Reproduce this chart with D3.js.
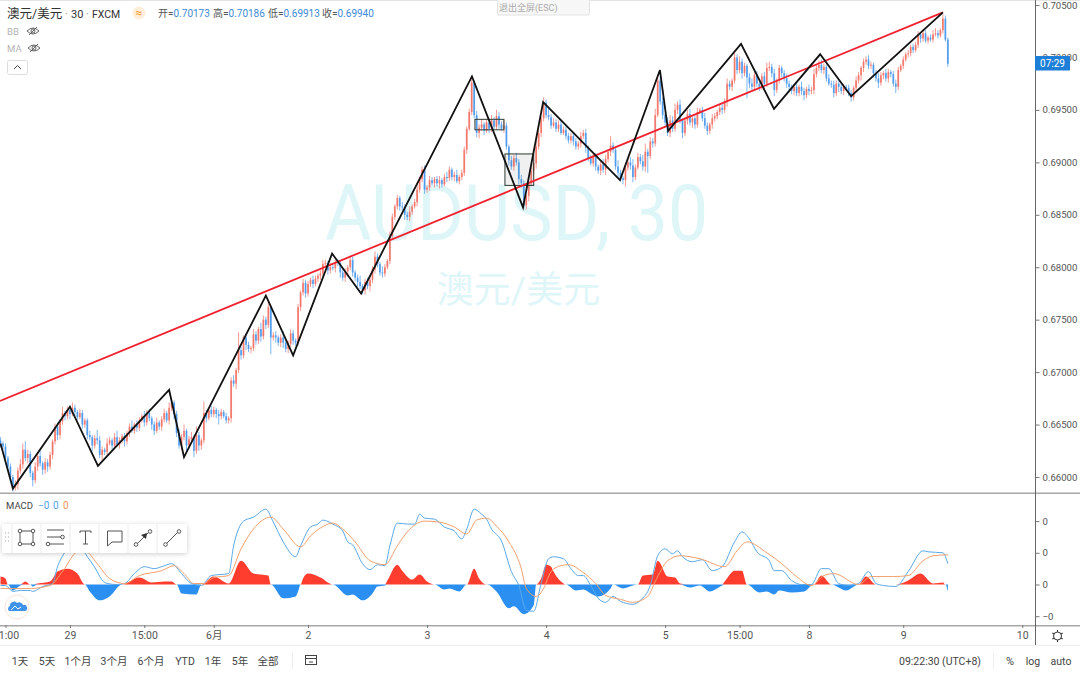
<!DOCTYPE html>
<html><head><meta charset="utf-8">
<script src="https://cdn.jsdelivr.net/npm/d3@7/dist/d3.min.js"></script>
<style>
html,body{margin:0;padding:0;background:#fff;overflow:hidden}
svg{display:block}
text{font-family:Roboto,"Noto Sans CJK SC",sans-serif}
</style></head><body>
<svg id="c" width="1080" height="675"></svg>
<script>
// close of each 30 minute bar, in pips (0.0001)
const closes=[
6632,6629,6618,6610,6600,6590,6593,6606,6612,6626,
6618,6622,6604,6597,6610,6620,6613,6607,6614,6610,
6621,6634,6648,6640,6653,6661,6658,6664,6660,6666,
6662,6657,6661,6650,6654,6640,6638,6630,6637,6635,
6621,6626,6624,6632,6635,6630,6638,6631,6635,6639,
6634,6642,6648,6644,6650,6647,6654,6658,6652,6661,
6656,6650,6644,6652,6648,6655,6661,6654,6666,6671,
6660,6642,6630,6638,6644,6630,6636,6638,6625,6640,
6630,6635,6661,6656,6664,6660,6664,6660,6658,6662,
6658,6654,6656,6692,6689,6702,6721,6716,6733,6726,
6722,6723,6736,6730,6741,6734,6750,6745,6762,6733,
6735,6733,6728,6733,6728,6722,6727,6737,6730,6728,
6762,6776,6785,6775,6784,6788,6784,6789,6792,6794,
6803,6804,6797,6800,6799,6805,6804,6795,6790,6796,
6800,6807,6795,6790,6786,6782,6778,6786,6782,6788,
6798,6810,6803,6795,6794,6800,6806,6830,6848,6858,
6866,6858,6857,6850,6848,6853,6858,6862,6874,6884,
6893,6874,6876,6883,6880,6884,6880,6883,6879,6886,
6885,6893,6886,6888,6882,6886,6890,6912,6932,6948,
6976,6945,6928,6933,6936,6930,6938,6932,6940,6934,
6944,6936,6932,6935,6915,6902,6896,6904,6900,6884,
6880,6859,6868,6880,6892,6899,6915,6928,6942,6957,
6945,6943,6935,6938,6932,6936,6928,6931,6925,6921,
6925,6920,6915,6918,6925,6928,6914,6904,6899,6905,
6896,6892,6898,6893,6903,6910,6916,6912,6896,6890,
6885,6883,6895,6900,6897,6886,6895,6905,6901,6896,
6910,6906,6920,6918,6945,6978,6958,6945,6938,6928,
6940,6932,6950,6955,6940,6928,6940,6946,6938,6942,
6936,6948,6950,6942,6935,6930,6936,6942,6944,6948,
6952,6950,6958,6975,6972,6978,7000,6988,6996,6985,
6992,6981,6975,6972,6983,6975,6972,6982,6975,6990,
6991,6985,6969,6978,6990,6985,6980,6975,6972,6968,
6972,6966,6972,6968,6964,6970,6968,6969,6984,6990,
6993,6988,6991,6980,6975,6974,6966,6975,6972,6968,
6972,6971,6966,6962,6971,6978,6983,6990,6996,6998,
6992,6993,6985,6980,6976,6983,6985,6980,6986,6984,
6975,6972,6988,6992,6998,7003,7004,7010,7007,7012,
7022,7018,7023,7016,7019,7017,7022,7023,7021,7026,
7037,7017,6994];
const wickUp=[
3,2,3,2,3,2,4,3,5,6, 8,4,3,2,4,3,5,2,4,3, 3,2,3,4,2,6,2,3,4,5, 3,2,4,3,2,2,4,2,3,8,
4,3,2,5,3,2,4,6,3,2, 3,2,3,6,2,4,3,2,5,3, 4,2,3,5,2,3,4,2,5,3, 2,3,4,3,6,2,3,5,2,8,
3,2,11,3,2,4,3,2,4,3, 2,3,2,3,5,2,17,3,2,4, 3,2,5,3,2,6,4,3,5,2, 3,4,2,3,6,2,3,4,3,2,
3,2,4,3,3,2,4,3,2,3, 4,3,2,4,3,2,3,2,5,3, 2,4,3,2,3,6,2,3,4,2, 3,5,3,2,6,3,2,4,3,2,
3,2,4,3,3,5,2,3,4,2, 3,4,2,4,3,2,3,4,2,3, 5,3,2,3,5,2,3,3,2,3, 3,2,4,3,5,2,3,4,5,3,
6,4,3,5,3,2,4,3,5,3, 4,3,2,3,3,4,6,3,2,5, 3,6,3,4,3,4,5,3,3,3, 3,4,3,2,4,3,4,2,3,3,
4,2,3,5,4,2,9,3,2,6, 3,2,4,3,5,6,3,4,3,6, 8,3,4,3,6,4,3,4,2,5, 5,4,6,3,5,2,3,4,5,3,
3,4,2,3,5,3,2,4,3,2, 3,4,3,5,3,2,4,3,5,3, 3,2,4,5,3,4,2,3,4,5, 5,3,4,2,3,2,3,4,3,2,
3,4,2,5,3,2,4,3,5,3, 4,5,3,2,4,3,4,3,3,4, 3,2,3,3,2,4,3,2,3,3, 4,3,2,3,5,3,2,4,3,2,
3,4,3,2,3,2,3,2,3,3, 3,2,4,3,2,3,4,5,3,2, 4,3,2,3,2,3,4,2,3,2, 3,2,1,3,2,3,2,3,2,3,
3,2,2];
const wickDown=[
4,3,3,4,3,4,3,5,3,4, 3,5,4,6,3,4,3,5,4,5, 3,4,3,5,4,3,4,3,5,2, 4,3,2,4,3,4,3,5,3,4,
3,5,3,4,2,4,3,2,4,3, 5,3,4,2,3,4,3,2,4,3, 3,5,4,2,3,4,3,2,4,3, 5,4,3,4,3,5,3,4,6,3,
5,4,3,4,2,3,3,4,8,3, 2,3,3,4,3,5,3,4,3,5, 3,4,3,4,3,5,3,4,3,16, 3,5,3,4,5,3,4,3,4,3,
3,4,3,4,3,3,4,2,3,4, 3,3,4,3,2,4,3,5,3,4, 5,3,4,3,5,3,4,4,3,5, 3,4,3,3,4,3,2,3,3,3,
3,4,3,5,3,4,3,2,4,3, 3,4,3,3,2,4,3,5,3,2, 4,3,3,4,2,3,3,3,4,2, 3,3,4,5,3,4,2,4,3,3,
3,4,2,4,3,5,3,4,3,5, 4,3,4,5,3,4,5,3,4,3, 3,3,3,2,3,3,2,2,3,3, 3,4,3,3,4,3,5,3,2,3,
4,3,4,3,5,3,4,3,3,4, 3,4,6,3,4,5,3,2,3,4, 5,16,3,4,3,2,3,4,3,3, 4,3,3,4,3,5,3,4,3,5,
4,3,2,3,3,4,3,4,3,3, 3,4,3,5,3,4,3,4,3,5, 3,20,4,3,2,3,4,3,5,3, 3,4,6,3,3,4,3,4,5,3,
4,3,3,4,5,3,4,3,4,3, 3,3,4,3,2,3,4,3,5,3, 4,3,3,4,3,4,3,5,4,3, 3,3,4,3,5,3,4,3,4,3,
3,6,3,2,3,2,3,3,3,2, 3,4,3,2,3,2,3,2,3,2, 3,2,3,2,3,3,2,3,2,2, 3,2,3,3,2,3,2,3,2,3,
4,6,3];
// drawn zigzag: [bar, pips]
const zigzag=[[0,6632],[5,6589],[28,6667],[39.3,6610.5],[68,6683],[74,6619],[107,6773],[118,6716],[133.7,6813],[145.4,6775],[190.1,6982],[210.7,6857],[218.8,6957.5],[249.8,6883],[265.9,6988],[269.2,6930],[298.6,7013],[311.9,6951],[330.5,7003],[343,6963],[380,7043]];
const trend=[[-0.2,6672.5],[380,7043]];
const boxes=[[191.3,203,6941,6931,0.05],[203.4,215,6908,6878,0.1]];
const priceTicks=[7050,7000,6950,6900,6850,6800,6750,6700,6650,6600];
const timeTicks=[2,28,58,86,124,172,220,268,298,326,364,412];
const timeLabels=["1:00","29","15:00","6月","2","3","4","5","15:00","8","9","10"];
// MACD pane: [bar, value]
const macdLine=[[0,-1],[2,-1],[5,-7],[8,-6],[12,-6],[13,-7],[17,-2],[21,1],[23,18],[26,33],[30,50],[34,32],[39,13],[40,8],[43,1],[47,0],[50,1],[54,11],[58,18],[62,16],[65,18],[69,21],[73,11],[77,1],[81,-1],[85,9],[92,11],[94,39],[98,64],[102,68],[107,76],[110,63],[114,43],[119,28],[121,39],[125,58],[128,61],[130,65],[134,61],[138,54],[140,43],[142,40],[146,21],[149,15],[152,20],[155,19],[157,39],[160,62],[164,61],[167,61],[169,71],[171,67],[175,66],[179,58],[183,54],[186,46],[188,56],[191,76],[194,71],[196,66],[198,56],[202,44],[206,13],[209,-1],[212,-26],[215,-27],[218,1],[221,26],[223,28],[227,26],[230,16],[233,9],[235,9],[238,-1],[241,-14],[244,-18],[247,-12],[250,-17],[255,-20],[258,-16],[262,-1],[265,29],[268,36],[271,31],[273,34],[275,28],[279,23],[283,25],[287,14],[291,18],[296,43],[299,53],[302,46],[305,33],[310,24],[312,14],[315,14],[319,4],[323,0],[327,0],[331,16],[334,16],[338,1],[342,-1],[346,1],[350,13],[353,1],[356,-1],[361,-2],[366,13],[372,34],[374,33],[380,32],[382,21]];
const signalLine=[[0,-4],[5,-4],[12,-4],[20,-1],[25,13],[31,33],[34,34],[39,21],[44,6],[50,1],[56,9],[65,14],[70,19],[74,11],[78,1],[82,1],[86,7],[92,9],[97,36],[102,56],[109,68],[114,56],[121,38],[125,49],[129,57],[134,62],[138,56],[143,43],[149,24],[155,20],[160,39],[164,53],[171,64],[177,63],[183,58],[188,51],[192,65],[196,67],[200,59],[205,43],[210,16],[212,-4],[216,-12],[219,-4],[222,13],[226,19],[229,20],[235,12],[240,1],[244,-11],[250,-15],[255,-18],[261,-12],[264,3],[269,24],[274,29],[282,26],[292,18],[297,34],[301,43],[309,32],[315,21],[321,8],[327,-1],[332,9],[336,11],[346,0],[351,8],[360,8],[366,9],[372,24],[376,29],[382,30]];
const histogram=[[0,8],[2,6],[3,0],[5,-6],[8,-1],[10,3],[12,0],[13,-2],[15,1],[20,3],[23,13],[27,16],[31,11],[34,0],[36,-7],[40,-16],[44,-12],[49,0],[56,7],[61,2],[66,3],[69,3],[71,0],[73,-9],[79,-10],[81,0],[86,8],[92,1],[97,24],[102,11],[108,9],[109,0],[114,-14],[119,-12],[120,-7],[121,0],[122,6],[124,11],[129,7],[134,0],[140,-11],[142,-10],[146,-16],[150,-9],[152,-2],[155,-1],[156,4],[160,20],[162,14],[166,5],[169,10],[172,3],[175,0],[179,-5],[181,-4],[185,-7],[188,0],[191,16],[193,6],[196,0],[200,-7],[205,-24],[207,-22],[211,-30],[215,-21],[216,0],[218,6],[220,20],[222,18],[223,13],[227,1],[228,0],[232,-6],[235,-5],[238,-9],[241,-12],[246,-4],[247,0],[251,-4],[255,-1],[257,0],[259,9],[263,10],[265,24],[269,8],[272,7],[274,1],[278,-3],[282,-1],[286,-7],[291,-1],[292,3],[296,14],[299,14],[301,0],[306,-8],[309,-7],[312,-10],[314,-6],[319,-8],[324,-7],[328,0],[331,9],[335,0],[341,-6],[346,0],[349,8],[353,0],[361,0],[366,4],[371,11],[376,1],[380,2],[381,0],[382,-7]];
const macdTicks=[64,32,0,-32];
const macdTickLabels=["0","0","0","−0"];
const ranges=["1天","5天","1个月","3个月","6个月","YTD","1年","5年","全部"];
const rangeX=[20,47,78,114,151,185,213,240,268];

const svg=d3.select("#c");
const W=1035, MAIN_B=493, MACD_B=625;
const x=d3.scaleLinear().domain([0,412]).range([0.5,1022.26]);
const yP=d3.scaleLinear().domain([7050,6600]).range([5,477]);
const yM=d3.scaleLinear().domain([32,0]).range([552.8,584.5]);

const defs=svg.append("defs");
defs.append("clipPath").attr("id","cm").append("rect").attr("width",W).attr("height",MAIN_B);
defs.append("clipPath").attr("id","cb").append("rect").attr("y",MAIN_B).attr("width",W).attr("height",MACD_B-MAIN_B);
const fl=defs.append("filter").attr("id","sh").attr("x","-10%").attr("y","-30%").attr("width","120%").attr("height","170%");
fl.append("feDropShadow").attr("dx",0).attr("dy",1).attr("stdDeviation",2.5).attr("flood-color","#000").attr("flood-opacity",.2);

// watermark
svg.append("text").attr("x",325).attr("y",240).attr("font-size",78).attr("fill","#dff6f8")
 .attr("textLength",383).attr("lengthAdjust","spacingAndGlyphs").text("AUDUSD, 30");
svg.append("text").attr("x",518.5).attr("y",303).attr("text-anchor","middle").attr("font-size",37).attr("fill","#dff6f8").text("澳元/美元");

// candles
const UP="#f2695c", DN="#3f92ea";
const main=svg.append("g").attr("clip-path","url(#cm)");
const bars=closes.map((c,i)=>{
  const o=i?closes[i-1]:c+3;
  return {i,o,c,h:Math.max(o,c)+(wickUp[i]||0),l:Math.min(o,c)-(wickDown[i]||0)};
});
const g=main.selectAll("g.b").data(bars).join("g").attr("class","b").attr("stroke",d=>d.c>=d.o?UP:DN);
g.append("line").attr("x1",d=>x(d.i)).attr("x2",d=>x(d.i)).attr("y1",d=>yP(d.h)).attr("y2",d=>yP(d.l)).attr("stroke-width",.9).attr("stroke-opacity",.75);
g.append("rect").attr("x",d=>x(d.i)-.9).attr("width",1.8).attr("y",d=>Math.min(yP(d.o),yP(d.c)))
 .attr("height",d=>Math.max(.6,Math.abs(yP(d.o)-yP(d.c)))).attr("fill",d=>d.c>=d.o?UP:DN).attr("stroke","none").attr("fill-opacity",.78);

// boxes
main.selectAll("rect.box").data(boxes).join("rect").attr("class","box")
 .attr("x",d=>x(d[0])).attr("width",d=>x(d[1])-x(d[0])).attr("y",d=>yP(d[2])).attr("height",d=>yP(d[3])-yP(d[2]))
 .attr("fill","#5f6f5f").attr("fill-opacity",d=>d[4]).attr("stroke","#2e3a33").attr("stroke-width",1);

const ln=d3.line().x(d=>x(d[0])).y(d=>yP(d[1]));
main.append("path").attr("d",ln(trend)).attr("fill","none").attr("stroke","#f0212e").attr("stroke-width",1.8);
main.append("path").attr("d",ln(zigzag)).attr("fill","none").attr("stroke","#111").attr("stroke-width",1.8).attr("stroke-linejoin","miter");

// MACD
const mac=svg.append("g").attr("clip-path","url(#cb)");
const ar=d3.area().curve(d3.curveMonotoneX).x(d=>x(d[0])).y0(yM(0));
mac.append("path").attr("d",ar.y1(d=>yM(Math.max(d[1],0)))(histogram)).attr("fill","#ff3d2e");
mac.append("path").attr("d",ar.y1(d=>yM(Math.min(d[1],0)))(histogram)).attr("fill","#2a8ff0");
const lm=d3.line().curve(d3.curveMonotoneX).x(d=>x(d[0])).y(d=>yM(d[1]));
mac.append("path").attr("d",lm(macdLine)).attr("fill","none").attr("stroke","#5aa8e6").attr("stroke-width",1);
mac.append("path").attr("d",lm(signalLine)).attr("fill","none").attr("stroke","#f2a06c").attr("stroke-width",1);

// frame lines
svg.append("rect").attr("width",1080).attr("height",1).attr("fill","#e4e4e4");
svg.append("rect").attr("y",492.5).attr("width",1080).attr("height",1.5).attr("fill","#a8a8a8");
svg.append("rect").attr("y",625).attr("width",1080).attr("height",1.5).attr("fill","#a8a8a8");
svg.append("rect").attr("x",1035).attr("width",1).attr("height",645).attr("fill","#666");
svg.append("rect").attr("y",645).attr("width",1080).attr("height",1).attr("fill","#eeeeee");

// axes
function sty(a){a.select(".domain").remove();a.selectAll(".tick line").attr("stroke","#777");a.selectAll(".tick text").attr("fill","#555").attr("font-size",9.6).style("font-family","Roboto");}
svg.append("g").attr("transform","translate(1035.5,0)")
 .call(d3.axisRight(yP).tickValues(priceTicks).tickSize(4).tickPadding(3).tickFormat(d=>(d/10000).toFixed(5))).call(sty);
svg.append("g").attr("transform","translate(1035.5,0)")
 .call(d3.axisRight(yM).tickValues(macdTicks).tickSize(4).tickPadding(3).tickFormat((d,i)=>macdTickLabels[i])).call(sty);
const tx=svg.append("g").attr("transform","translate(0,625)")
 .call(d3.axisBottom(x).tickValues(timeTicks).tickSize(3).tickPadding(4).tickFormat((d,i)=>timeLabels[i])).call(sty);
tx.selectAll(".tick text").style("font-family","Roboto,'Noto Sans CJK SC'").attr("font-size",10.5);
tx.select(".tick text").attr("dx",3);

// price tag
svg.append("rect").attr("x",1035).attr("y",56).attr("width",35).attr("height",14.5).attr("fill","#1e7fd8");
svg.append("text").attr("x",1052.5).attr("y",66.8).attr("text-anchor","middle").attr("fill","#fff").attr("font-size",10).text("07:29");

// header
const T=(x,y,s,f,c,a)=>svg.append("text").attr("x",x).attr("y",y).attr("font-size",f).attr("fill",c).attr("text-anchor",a||"start").text(s);
T(7,18,"澳元/美元",12.5,"#333");
T(65,18,"·",10,"#888");
T(71,18,"30",11,"#333");
T(86,18,"·",10,"#888");
T(92,18,"FXCM",10.5,"#333");
svg.append("circle").attr("cx",139).attr("cy",13).attr("r",6.5).attr("fill","#ffeedb");
T(139,17,"≈",12,"#f59a23","middle");
const ohlc=[[158,"开","0.70173"],[213,"高","0.70186"],[268,"低","0.69913"],[322,"收","0.69940"]];
ohlc.forEach(d=>{
  const t=svg.append("text").attr("x",d[0]).attr("y",17).attr("font-size",10);
  t.append("tspan").attr("fill","#555").text(d[1]+"=");
  t.append("tspan").attr("fill","#3d8bd8").text(d[2]);
});
T(7,35,"BB",9.5,"#b5b5b5");T(7,52,"MA",9.5,"#b5b5b5");
[[33,31],[34,48]].forEach(p=>{
  const e=svg.append("g").attr("transform",`translate(${p[0]},${p[1]})`).attr("fill","none").attr("stroke","#555").attr("stroke-width",.9);
  e.append("path").attr("d","M-6,0Q0,-6 6,0Q0,6 -6,0Z");
  e.append("circle").attr("r",2);
  e.append("path").attr("d","M-4,4L4,-4");
});
svg.append("rect").attr("x",7.5).attr("y",60.5).attr("width",20).attr("height",14).attr("rx",2).attr("fill","#fff").attr("stroke","#ddd");
svg.append("path").attr("d","M14,69L17.5,65.5L21,69").attr("fill","none").attr("stroke","#444");

// exit fullscreen pill
svg.append("rect").attr("x",497.5).attr("y",-2).attr("width",92).attr("height",17).attr("rx",2).attr("fill","#f7f7f7").attr("stroke","#e2e2e2");
T(499,11,"退出全屏(ESC)",9,"#aaa");

// MACD legend
T(6,509,"MACD",9.5,"#444");
T(38,509,"−0",10,"#4ea3e6");T(53,509,"0",10,"#4ea3e6");T(63,509,"0",10,"#f0955a");

// drawing toolbar
const tb=svg.append("g");
tb.append("rect").attr("x",2).attr("y",524).attr("width",185).attr("height",29).attr("rx",3).attr("fill","#fff").attr("filter","url(#sh)");
[12,41,70,99,128,157].forEach(v=>tb.append("rect").attr("x",v-.5).attr("y",524).attr("width",1).attr("height",29).attr("fill","#ececec"));
[[5.5,533],[8.5,533],[5.5,537],[8.5,537],[5.5,541],[8.5,541]].forEach(p=>tb.append("circle").attr("cx",p[0]).attr("cy",p[1]).attr("r",.7).attr("fill","#bbb"));
const ic=tb.append("g").attr("fill","none").attr("stroke","#555").attr("stroke-width",1);
ic.append("rect").attr("x",20).attr("y",531).attr("width",13).attr("height",13);
[[20,531],[33,531],[20,544],[33,544]].forEach(p=>ic.append("circle").attr("cx",p[0]).attr("cy",p[1]).attr("r",1.8).attr("fill","#fff"));
ic.append("path").attr("d","M47,530H64M47,537H61M50,544H64");
ic.append("circle").attr("cx",62.5).attr("cy",537).attr("r",1.8).attr("fill","#fff");
ic.append("circle").attr("cx",48).attr("cy",544).attr("r",1.8).attr("fill","#fff");
ic.append("path").attr("d","M80,531H91M85.5,531V544M83,544H88M80,531v2M91,531v2");
ic.append("path").attr("d","M107.5,531H122V542H112L107.5,546Z");
ic.append("path").attr("d","M137,544L149,532");
ic.append("circle").attr("cx",136).attr("cy",544.5).attr("r",1.8).attr("fill","#fff");
ic.append("circle").attr("cx",150).attr("cy",531.5).attr("r",1.8).attr("fill","#fff");
tb.append("path").attr("d","M141,535L147,533L146,539Z").attr("fill","#333");
ic.append("path").attr("d","M166,544L178,532");
ic.append("circle").attr("cx",165.5).attr("cy",544.5).attr("r",1.8).attr("fill","#fff");
ic.append("circle").attr("cx",179).attr("cy",531.5).attr("r",1.8).attr("fill","#fff");

// cloud badge
svg.append("circle").attr("cx",17).attr("cy",607).attr("r",12).attr("fill","#fff").attr("stroke","#f5e6da");
svg.append("path").attr("d","M9,611a3,3 0 0 1 1,-5a4,4 0 0 1 7,-3a4,4 0 0 1 6,2a3,3 0 0 1 2,6Z").attr("fill","#3f92ea");
svg.append("path").attr("d","M11,610L15,606L18,609L21,607").attr("fill","none").attr("stroke","#fff").attr("stroke-width",1);

// gear
const ge=svg.append("g").attr("transform","translate(1057.5,636)").attr("fill","none").attr("stroke","#333").attr("stroke-width",1);
ge.append("circle").attr("r",4);
[0,60,120,180,240,300].forEach(a=>ge.append("path").attr("transform",`rotate(${a})`).attr("d","M0,-4V-6"));

// bottom bar
ranges.forEach((r,i)=>T(rangeX[i],665,r,10.5,"#444","middle"));
svg.append("rect").attr("x",292).attr("y",653).attr("width",1).attr("height",16).attr("fill","#eee");
const cmp=svg.append("g").attr("fill","none").attr("stroke","#444");
cmp.append("rect").attr("x",305.5).attr("y",655.5).attr("width",11).attr("height",9);
cmp.append("path").attr("d","M305.5,658.5H316.5M309,662H313");
svg.append("rect").attr("x",993).attr("y",653).attr("width",1).attr("height",16).attr("fill","#eee");
T(899,665,"09:22:30 (UTC+8)",10.5,"#444");
T(1010,665,"%",11,"#444","middle");T(1033,665,"log",10.5,"#444","middle");T(1061,665,"auto",10.5,"#444","middle");
</script></body></html>
